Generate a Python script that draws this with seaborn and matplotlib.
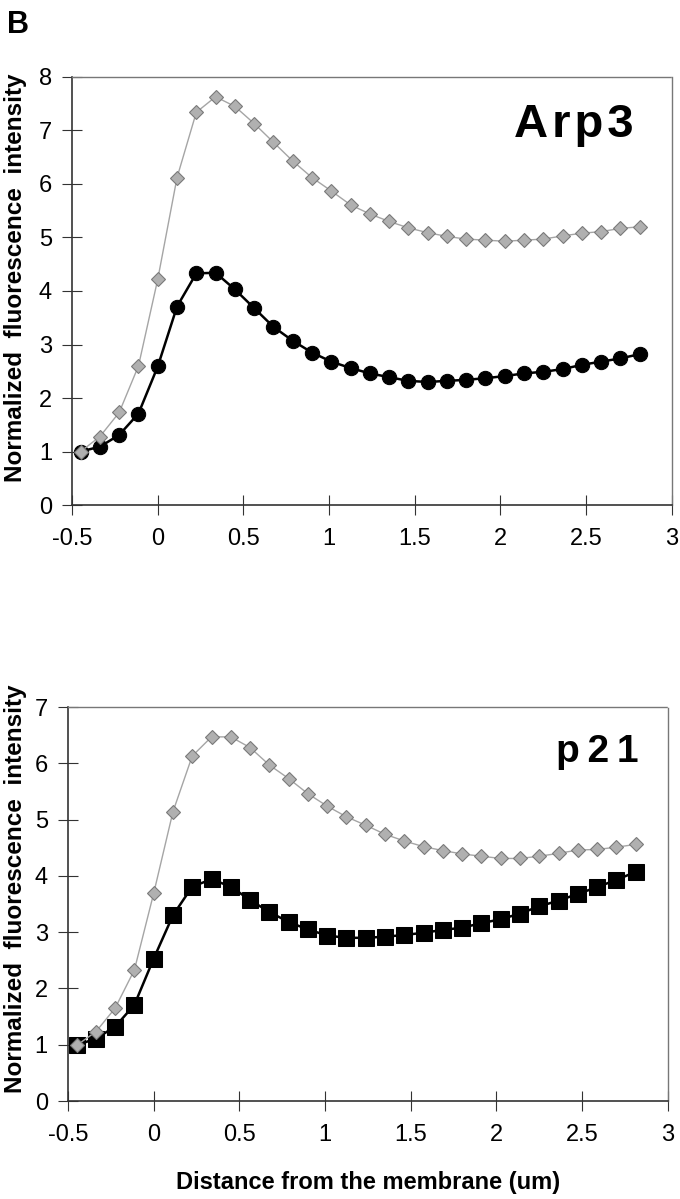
import numpy as np
import matplotlib
matplotlib.use("Agg")
import matplotlib.pyplot as plt
from matplotlib.ticker import FuncFormatter
import seaborn as sns
import pandas as pd

# distance from the membrane (um), same sampling in both panels
distance = [-0.45, -0.3375, -0.225, -0.1125, 0.0, 0.1125, 0.225, 0.3375, 0.45, 0.5625,
            0.675, 0.7875, 0.9, 1.0125, 1.125, 1.2375, 1.35, 1.4625, 1.575, 1.6875,
            1.8, 1.9125, 2.025, 2.1375, 2.25, 2.3625, 2.475, 2.5875, 2.7, 2.8125]

# panel Arp3
arp3_gray = [1.00, 1.28, 1.73, 2.60, 4.22, 6.12, 7.34, 7.63, 7.45, 7.13,
             6.78, 6.43, 6.12, 5.87, 5.61, 5.44, 5.30, 5.18, 5.09, 5.02,
             4.97, 4.95, 4.93, 4.95, 4.97, 5.03, 5.08, 5.11, 5.17, 5.20]
arp3_black = [1.00, 1.09, 1.31, 1.71, 2.59, 3.71, 4.33, 4.34, 4.03, 3.68,
              3.33, 3.07, 2.85, 2.68, 2.56, 2.46, 2.39, 2.32, 2.30, 2.32,
              2.34, 2.37, 2.41, 2.46, 2.49, 2.54, 2.62, 2.68, 2.74, 2.82]

# panel p21
p21_gray = [0.99, 1.23, 1.65, 2.33, 3.69, 5.14, 6.13, 6.47, 6.47, 6.28,
            5.97, 5.73, 5.46, 5.24, 5.05, 4.90, 4.74, 4.62, 4.52, 4.45,
            4.39, 4.35, 4.31, 4.31, 4.35, 4.40, 4.46, 4.47, 4.51, 4.56]
p21_black = [0.99, 1.11, 1.32, 1.71, 2.53, 3.30, 3.81, 3.94, 3.81, 3.57,
             3.36, 3.18, 3.05, 2.94, 2.90, 2.90, 2.92, 2.95, 2.99, 3.04,
             3.08, 3.16, 3.23, 3.33, 3.46, 3.56, 3.68, 3.80, 3.93, 4.07]

x_ticks = [-0.5, 0, 0.5, 1, 1.5, 2, 2.5, 3]

sns.set_style("white")
plt.rcParams['font.family'] = ['Liberation Sans', 'DejaVu Sans']
plt.rcParams['axes.unicode_minus'] = False
for k in ['text.color', 'axes.labelcolor', 'xtick.color', 'ytick.color']:
    plt.rcParams[k] = 'black'

fig = plt.figure(figsize=(6.8, 11.99), dpi=100)
ax1 = fig.add_axes([0.106, 0.5788, 0.882, 0.357])
ax2 = fig.add_axes([0.100, 0.0817, 0.882, 0.3286])

gray_kw = dict(color='#a5a5a5', linewidth=1.0, marker='D', markersize=7.3,
               markerfacecolor='#b0b0b0', markeredgecolor='#7a7a7a', markeredgewidth=0.8)


def panel(ax, gray, black, black_marker, black_ms, ymax, label_x, label_y):
    df = pd.DataFrame({'distance': distance, 'gray': gray, 'black': black})
    sns.lineplot(data=df, x='distance', y='black', ax=ax, color='black', linewidth=1.8,
                 marker=black_marker, markersize=black_ms, markeredgecolor='black',
                 markerfacecolor='black', zorder=2)
    sns.lineplot(data=df, x='distance', y='gray', ax=ax, zorder=3, **gray_kw)
    ax.set_xlim(-0.5, 3)
    ax.set_ylim(0, ymax)
    ax.set_xticks(x_ticks)
    ax.set_yticks(range(ymax + 1))
    ax.xaxis.set_major_formatter(FuncFormatter(lambda v, p: '%g' % v))
    ax.tick_params(axis='both', direction='inout', length=15, width=0.8, color='#333333',
                   labelsize=17, bottom=True, left=True)
    ax.tick_params(axis='x', pad=9)
    ax.tick_params(axis='y', pad=7)
    for s in ['left', 'bottom']:
        ax.spines[s].set_color('#333333')
        ax.spines[s].set_linewidth(1.2)
    for s in ['top', 'right']:
        ax.spines[s].set_color('#777777')
        ax.spines[s].set_linewidth(1.0)
        ax.spines[s].set_linestyle((0, (1, 1)))
    ax.set_xlabel('')
    ax.set_ylabel('Normalized  fluorescence  intensity', fontsize=17.5, fontweight='bold')
    ax.yaxis.set_label_coords(label_x, label_y)
    return ax


panel(ax1, arp3_gray, arp3_black, 'o', 10.3, 8, -0.075, 0.53)
panel(ax2, p21_gray, p21_black, 's', 11.5, 7, -0.068, 0.54)

ax1.text(0.937, 0.86, 'A\u200ar\u200ap\u200a3', transform=ax1.transAxes, ha='right',
         va='baseline', fontsize=34, fontweight='bold')
ax2.text(0.952, 0.86, 'p\u20092\u20091', transform=ax2.transAxes, ha='right',
         va='baseline', fontsize=28, fontweight='bold')

ax2.set_xlabel('Distance from the membrane (um)', fontsize=17, fontweight='bold',
               labelpad=18)

fig.text(0.01, 0.992, 'B', fontsize=22, fontweight='bold', va='top', ha='left')

fig.savefig('out.png', dpi=100)
